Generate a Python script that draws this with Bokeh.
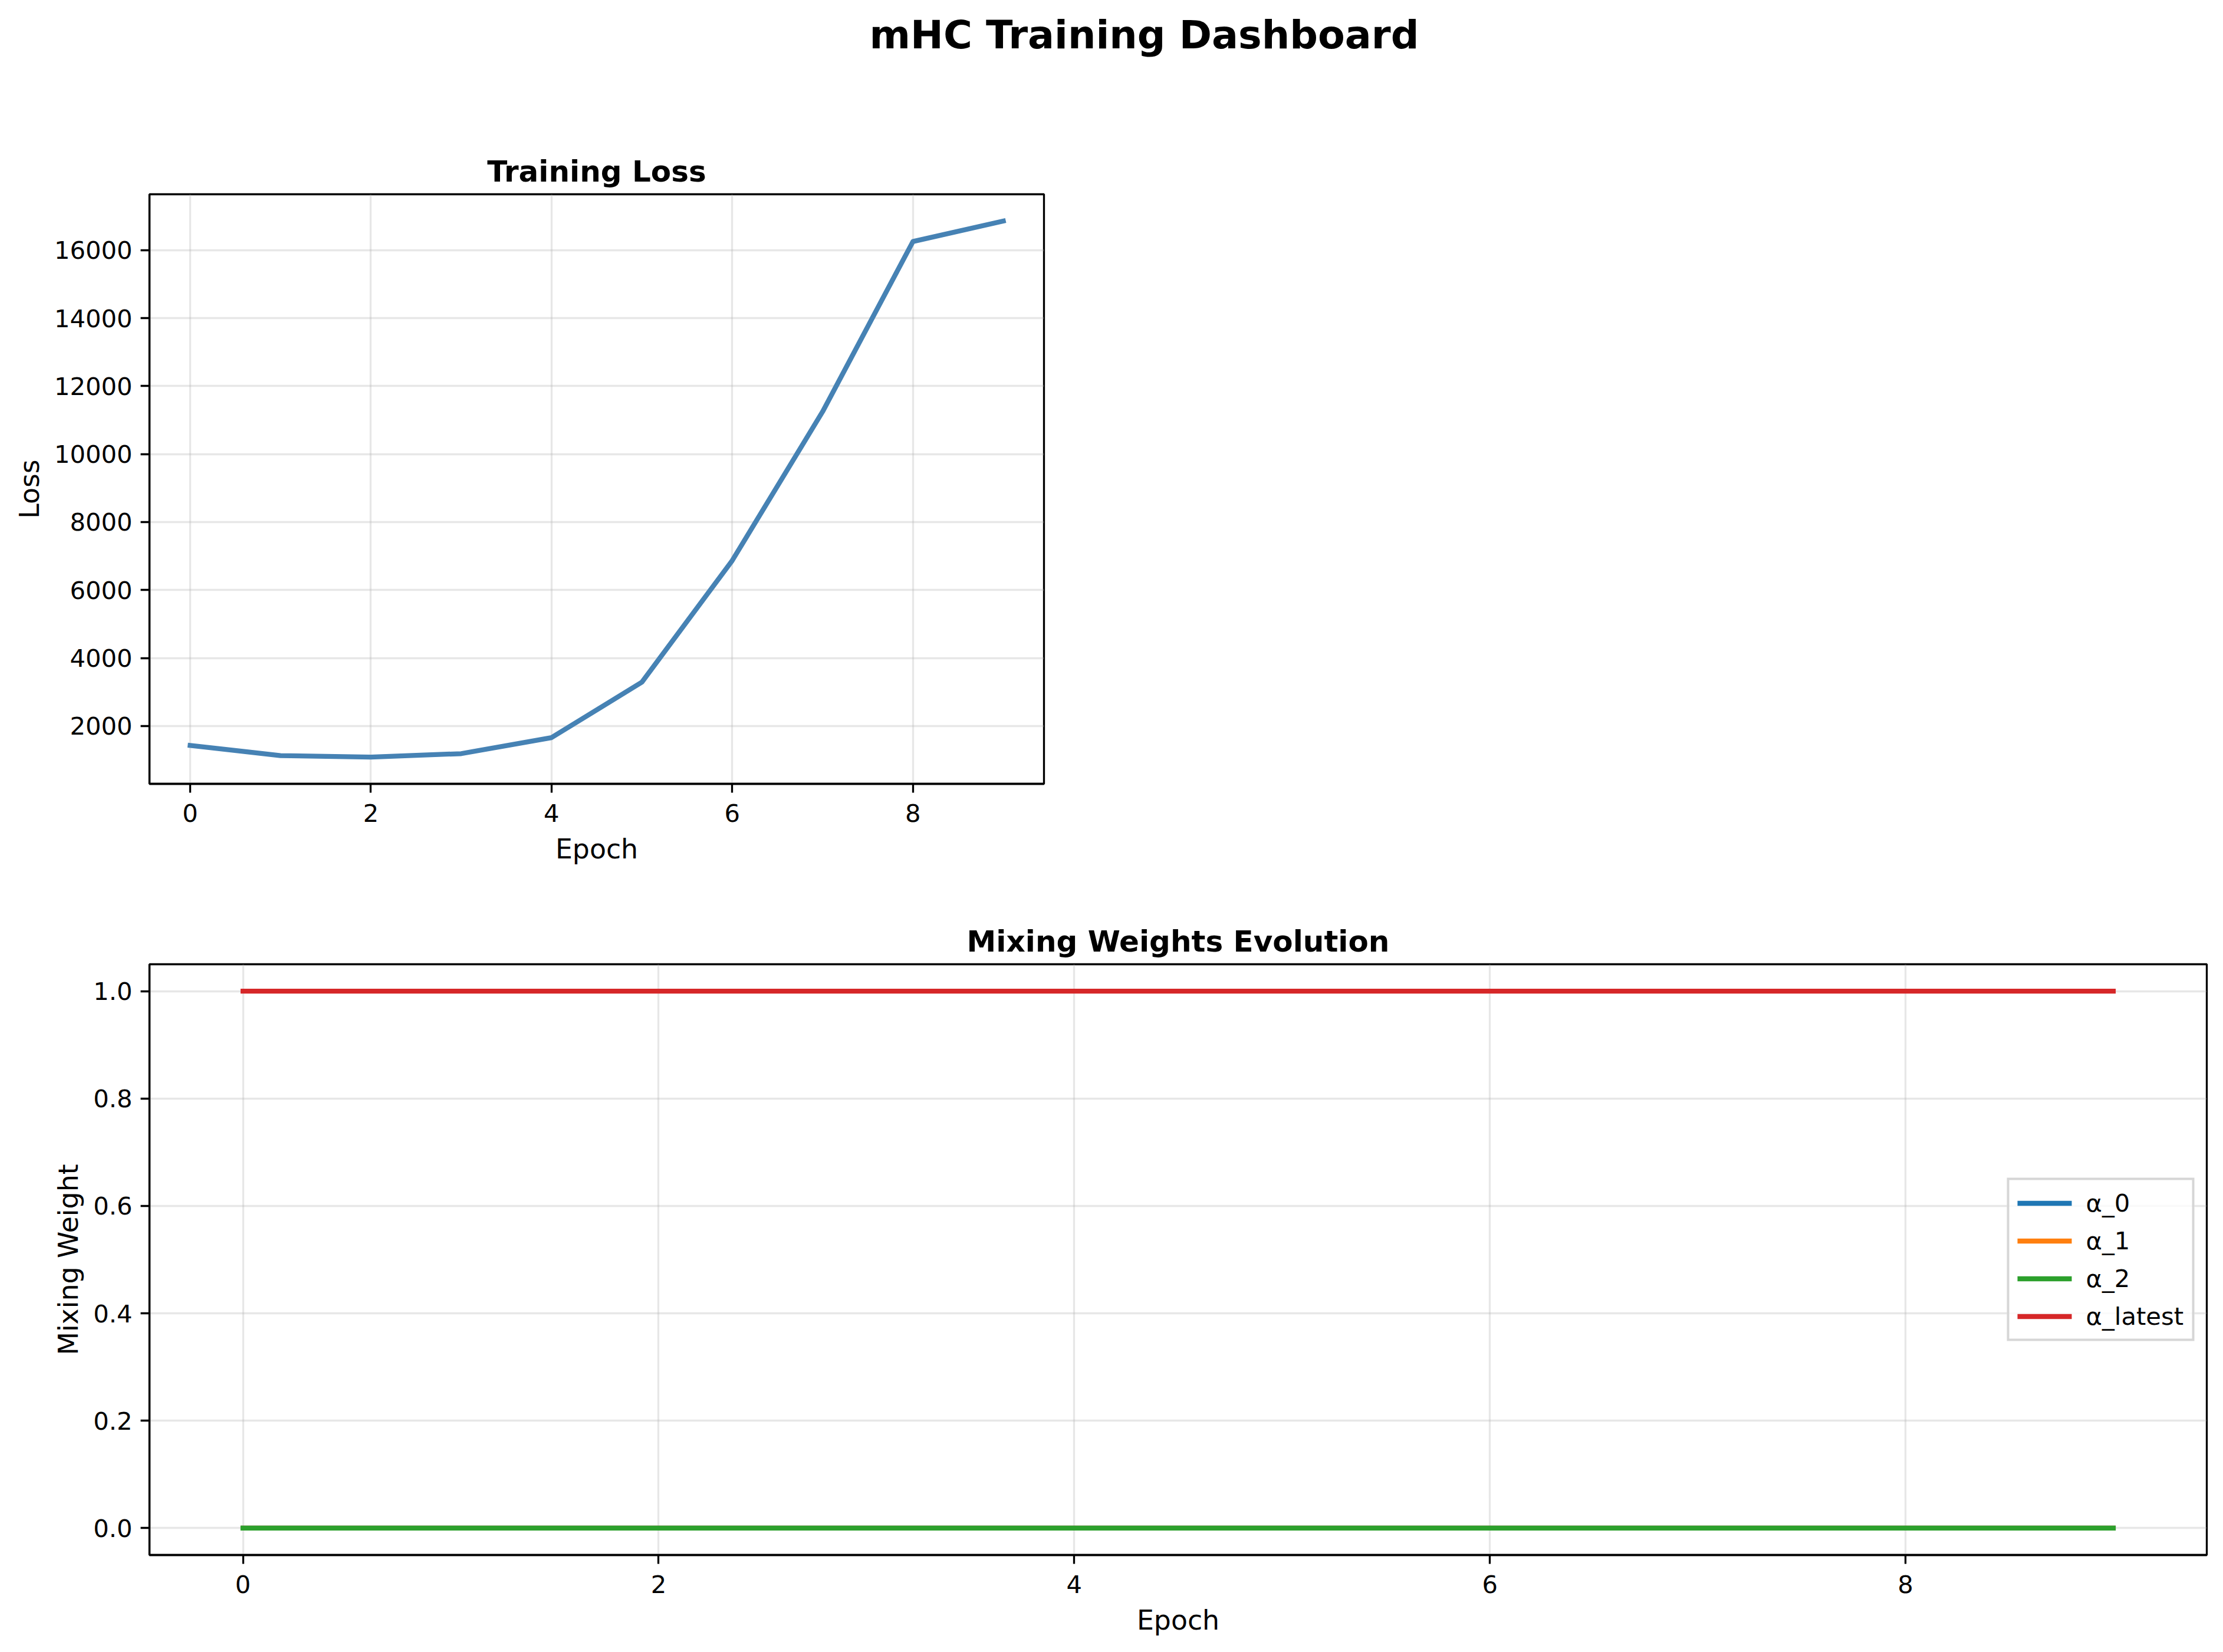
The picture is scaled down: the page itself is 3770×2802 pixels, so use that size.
from bokeh.plotting import figure
from bokeh.layouts import column
from bokeh.models import Range1d, FixedTicker, NumeralTickFormatter, Legend, LegendItem, Label
from bokeh.embed import file_html
from bokeh.resources import INLINE

# ---------------- data ----------------
epochs = [0, 1, 2, 3, 4, 5, 6, 7, 8, 9]
train_loss = [1427, 1127, 1084, 1184, 1656, 3289, 6868, 11250, 16258, 16859]

alpha_0 = [0.0, 0.0, 0.0, 0.0, 0.0, 0.0, 0.0, 0.0, 0.0, 0.0]
alpha_1 = [0.0, 0.0, 0.0, 0.0, 0.0, 0.0, 0.0, 0.0, 0.0, 0.0]
alpha_2 = [0.0, 0.0, 0.0, 0.0, 0.0, 0.0, 0.0, 0.0, 0.0, 0.0]
alpha_latest = [1.0, 1.0, 1.0, 1.0, 1.0, 1.0, 1.0, 1.0, 1.0, 1.0]

weight_names = ["α_0", "α_1", "α_2", "α_latest"]
weight_series = [alpha_0, alpha_1, alpha_2, alpha_latest]
weight_colors = ["#1f77b4", "#ff7f0e", "#2ca02c", "#d62728"]

epoch_ticks = [0, 2, 4, 6, 8]
loss_ticks = [2000, 4000, 6000, 8000, 10000, 12000, 14000, 16000]
weight_ticks = [0.0, 0.2, 0.4, 0.6, 0.8, 1.0]

suptitle = "mHC Training Dashboard"
loss_title = "Training Loss"
weights_title = "Mixing Weights Evolution"

# ---------------- helpers ----------------
FONT = "DejaVu Sans"
W = 3754
LW = 3.3
LEFT = 253
FW_TOP = 1517
FW_BOT = 3489


def padded(lo, hi, frac=0.05):
    d = (hi - lo) * frac
    return Range1d(lo - d, hi + d)


def style(p):
    p.outline_line_color = "black"
    p.outline_line_width = LW
    p.background_fill_color = "white"
    p.border_fill_color = "white"
    for ax in p.axis:
        ax.axis_line_color = "black"
        ax.axis_line_width = LW
        ax.major_tick_line_color = "black"
        ax.major_tick_line_width = LW
        ax.major_tick_out = 15
        ax.major_tick_in = 0
        ax.minor_tick_line_color = None
        ax.major_label_text_font = FONT
        ax.major_label_text_font_size = "41.7px"
        ax.major_label_text_color = "black"
        ax.axis_label_text_font = FONT
        ax.axis_label_text_font_size = "45.8px"
        ax.axis_label_text_font_style = "normal"
        ax.axis_label_text_color = "black"
    for ax in p.xaxis:
        ax.major_label_standoff = 19
        ax.axis_label_standoff = 16
    for ax in p.yaxis:
        ax.major_label_standoff = 14
        ax.axis_label_standoff = 12
    for g in p.grid:
        g.grid_line_color = "#b0b0b0"
        g.grid_line_alpha = 0.3
        g.grid_line_width = LW
    p.title.text_font = FONT
    p.title.text_font_size = "50px"
    p.title.text_font_style = "bold"
    p.title.align = "center"
    p.title.text_color = "black"
    p.title.standoff = 19


# ---------------- suptitle strip ----------------
top_h = 159
pt = figure(frame_width=FW_BOT, frame_height=top_h,
            x_range=Range1d(LEFT, LEFT + FW_BOT), y_range=Range1d(0, top_h),
            min_border=0, toolbar_location=None, output_backend="svg",
            x_axis_location=None, y_axis_location=None)
pt.title = None
pt.outline_line_color = None
pt.xgrid.visible = False
pt.ygrid.visible = False
pt.add_layout(Label(x=1940, y=101, text=suptitle, text_font=FONT,
                    text_font_size="66.7px", text_font_style="bold",
                    text_align="center", text_baseline="alphabetic", text_color="black"))

# ---------------- training loss ----------------
p1 = figure(frame_width=FW_TOP, frame_height=1000,
            min_border_left=LEFT, min_border_right=W - LEFT - FW_TOP,
            min_border_top=170, min_border_bottom=180,
            x_range=padded(min(epochs), max(epochs)),
            y_range=padded(min(train_loss), max(train_loss)),
            title=loss_title, toolbar_location=None, output_backend="svg")
p1.line(epochs, train_loss, line_color="#4682b4", line_width=8.3, line_join="round", line_cap="square")
p1.xaxis.ticker = FixedTicker(ticks=epoch_ticks)
p1.yaxis.ticker = FixedTicker(ticks=loss_ticks)
p1.xaxis.formatter = NumeralTickFormatter(format="0")
p1.yaxis.formatter = NumeralTickFormatter(format="0")
p1.xaxis.axis_label = "Epoch"
p1.yaxis.axis_label = "Loss"
style(p1)

# ---------------- mixing weights ----------------
p2 = figure(frame_width=FW_BOT, frame_height=1002,
            min_border_left=LEFT, min_border_right=W - LEFT - FW_BOT,
            min_border_top=126, min_border_bottom=140,
            x_range=padded(min(epochs), max(epochs)),
            y_range=padded(0.0, 1.0),
            title=weights_title, toolbar_location=None, output_backend="svg")
items = []
for name, series, col in zip(weight_names, weight_series, weight_colors):
    r = p2.line(epochs, series, line_color=col, line_width=8.3, line_cap="square")
    items.append(LegendItem(label=name, renderers=[r]))
p2.xaxis.ticker = FixedTicker(ticks=epoch_ticks)
p2.yaxis.ticker = FixedTicker(ticks=weight_ticks)
p2.xaxis.formatter = NumeralTickFormatter(format="0")
p2.yaxis.formatter = NumeralTickFormatter(format="0.0")
p2.xaxis.axis_label = "Epoch"
p2.yaxis.axis_label = "Mixing Weight"
style(p2)

legend = Legend(items=items, location="right", margin=21, padding=14, spacing=15,
                glyph_width=92, glyph_height=40, label_height=40, label_standoff=24,
                label_text_font=FONT, label_text_font_size="41.7px", label_text_color="black",
                border_line_color="#cccccc", border_line_width=4.2, border_line_alpha=0.8,
                background_fill_color="white", background_fill_alpha=0.8)
p2.add_layout(legend)

layout = column(pt, p1, p2, spacing=0)
open("out.html", "w").write(file_html(layout, INLINE))
